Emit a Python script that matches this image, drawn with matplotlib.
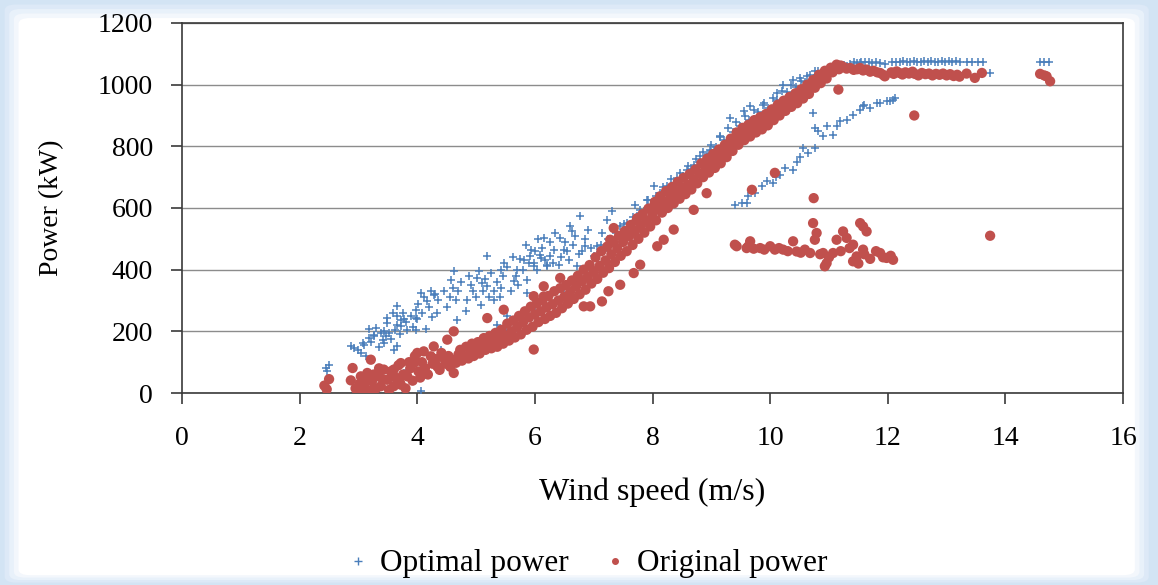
import numpy as np
import matplotlib
matplotlib.use('Agg')
import matplotlib.pyplot as plt
from matplotlib.patches import FancyBboxPatch
from matplotlib.lines import Line2D

plt.rcParams['font.family'] = ['Liberation Serif', 'DejaVu Serif']

# Original power - main band (wind speed m/s, power kW)
orig_speed = [2.42, 2.50, 2.46, 2.87, 2.90, 2.95, 2.98, 3.02, 3.04, 3.06, 3.10, 3.13, 3.15,
    3.20, 3.21, 3.23, 3.26, 3.30, 3.32, 3.35, 3.38, 3.41, 3.43, 3.49, 3.52, 3.55,
    3.60, 3.60, 3.63, 3.68, 3.70, 3.72, 3.72, 3.76, 3.80, 3.83, 3.86, 3.88,
    3.92, 3.94, 3.96, 4.00, 4.02, 4.05, 4.08, 4.11, 4.13, 4.18, 4.23, 4.26,
    4.28, 4.31, 4.34, 4.38, 4.41, 4.45, 4.48, 4.51, 4.53, 4.56, 4.59, 4.62, 4.62,
    4.66, 4.70, 4.73, 4.76, 4.80, 4.83, 4.87, 4.90, 4.93, 4.96, 5.00, 5.03,
    5.06, 5.10, 5.13, 5.16, 5.19, 5.20, 5.23, 5.26, 5.30, 5.33, 5.36, 5.40, 5.43,
    5.46, 5.47, 5.50, 5.53, 5.56, 5.60, 5.63, 5.66, 5.70, 5.73, 5.76, 5.80, 5.83,
    5.86, 5.90, 5.93, 5.96, 5.98, 6.00, 6.03, 5.98, 6.06, 6.10, 6.13,
    6.15, 6.15, 6.17, 6.20, 6.23, 6.26, 6.30, 6.33, 6.36, 6.40, 6.43, 6.43,
    6.46, 6.50, 6.53, 6.56, 6.60, 6.63, 6.66, 6.70, 6.73, 6.76, 6.80, 6.83, 6.83,
    6.86, 6.90, 6.93, 6.94, 6.96, 7.00, 7.03, 7.06, 7.10, 7.13, 7.14,
    7.16, 7.20, 7.23, 7.25, 7.26, 7.28, 7.30, 7.33, 7.34, 7.36, 7.40, 7.43, 7.45,
    7.46, 7.50, 7.53, 7.56, 7.60, 7.63, 7.66, 7.68, 7.70, 7.73, 7.74,
    7.76, 7.79, 7.80, 7.83, 7.86, 7.90, 7.93, 7.96, 8.00, 8.02, 8.04,
    8.06, 8.08, 8.10, 8.13, 8.16, 8.19, 8.20, 8.23, 8.26, 8.30, 8.33,
    8.36, 8.36, 8.40, 8.43, 8.46, 8.50, 8.53, 8.56, 8.60, 8.63,
    8.66, 8.70, 8.70, 8.73, 8.76, 8.80, 8.83, 8.86, 8.90, 8.92, 8.93,
    8.96, 9.00, 9.03, 9.06, 9.10, 9.13, 9.16, 9.20, 9.23, 9.26, 9.30, 9.33,
    9.36, 9.40, 9.43, 9.46, 9.50, 9.53, 9.56, 9.60, 9.63,
    9.66, 9.69, 9.70, 9.73, 9.76, 9.80, 9.83, 9.86, 9.90, 9.93,
    9.96, 10.00, 10.03, 10.06, 10.08, 10.10, 10.13, 10.16, 10.20, 10.23,
    10.26, 10.30, 10.33, 10.36, 10.40, 10.43, 10.46, 10.50, 10.53,
    10.56, 10.60, 10.63, 10.66, 10.70, 10.73, 10.76, 10.80, 10.83,
    10.86, 10.90, 10.93, 10.96, 11.00, 11.03, 11.06, 11.10, 11.13,
    11.16, 11.17, 11.20, 11.24]
orig_power = [24, 45, 12, 41, 81, 15, 5, 30, 54, 10, 22, 45, 65,
    8, 108, 38, 60, 15, 54, 80, 22, 45, 76, 43, 10, 70,
    22, 76, 50, 90, 35, 27, 97, 60, 15, 54, 100, 80,
    40, 97, 120, 130, 70, 50, 100, 135, 80, 60, 119, 95,
    151, 110, 86, 75, 130, 113, 95, 173, 120, 85, 108, 200, 65,
    98, 125, 140, 105, 118, 150, 112, 135, 160, 120, 145, 165,
    128, 150, 178, 140, 243, 160, 185, 145, 170, 195, 150, 175, 205,
    160, 270, 185, 225, 170, 200, 235, 180, 215, 250, 190, 230, 265,
    205, 245, 280, 215, 314, 255, 290, 141, 230, 265, 300,
    346, 313, 240, 278, 315, 250, 288, 330, 260, 300, 373, 340,
    275, 312, 350, 290, 328, 365, 305, 345, 380, 320, 362, 281, 400,
    335, 378, 415, 281, 355, 395, 440, 370, 412, 460, 297,
    390, 430, 475, 330, 405, 497, 450, 490, 535, 425, 470, 510, 351,
    445, 490, 525, 460, 508, 545, 480, 389, 525, 560, 567,
    500, 416, 543, 580, 520, 560, 598, 540, 580, 605, 620,
    560, 476, 600, 638, 585, 497, 620, 655, 600, 635, 668,
    530, 615, 650, 685, 630, 665, 698, 645, 675, 710,
    660, 594, 693, 725, 680, 712, 745, 700, 730, 648, 760,
    715, 745, 775, 730, 760, 790, 745, 775, 805, 765, 795, 825,
    785, 815, 845, 805, 835, 860, 820, 847, 870,
    832, 659, 858, 885, 845, 869, 895, 855, 880, 905,
    868, 895, 920, 885, 714, 910, 935, 900, 925, 948,
    915, 937, 960, 928, 949, 972, 940, 961, 985,
    955, 975, 1000, 970, 992, 1015, 990, 1010, 1032,
    1005, 1025, 1045, 1020, 1040, 1055, 1040, 1055, 1065,
    984, 1050, 1062, 1058]

# Original power - rated plateau
orig_rated_speed = [11.30, 11.36, 11.42, 11.48, 11.53, 11.58, 11.64, 11.70, 11.76, 11.82,
    11.87, 11.92, 11.95, 12.06, 12.10, 12.15, 12.20, 12.25, 12.30, 12.36, 12.42,
    12.46, 12.52, 12.58, 12.64, 12.70, 12.76, 12.82, 12.88, 12.94, 13.00, 13.06,
    13.12, 13.18, 13.22, 13.34, 13.48, 13.60, 14.59, 14.66, 14.70, 14.76]
orig_rated_power = [1052, 1054, 1048, 1050, 1054, 1046, 1049, 1042, 1045, 1040,
    1038, 1032, 1027, 1040, 1035, 1043, 1038, 1033, 1040, 1036, 1042,
    1035, 1030, 1038, 1034, 1036, 1030, 1035, 1032, 1036, 1030, 1034,
    1028, 1032, 1026, 1036, 1022, 1038, 1035, 1030, 1027, 1011]

# Original power - low cluster and isolated points
orig_low_speed = [9.40, 9.43, 9.60, 9.63, 9.66, 9.72, 9.83, 9.90, 10.00, 10.08, 10.15,
    10.22, 10.30, 10.39, 10.45, 10.52, 10.59, 10.68, 10.73, 10.76, 10.79, 10.85,
    10.90, 10.93, 10.96, 11.00, 11.07, 11.13, 11.20, 11.24, 11.30, 11.35, 11.41,
    11.41, 11.47, 11.50, 11.53, 11.58, 11.58, 11.64, 11.60, 11.70, 11.80, 11.87,
    11.92, 11.98, 12.05, 12.09, 10.74, 12.45, 13.74]
orig_low_power = [481, 476, 470, 476, 492, 468, 470, 465, 476, 465, 470,
    465, 460, 492, 459, 455, 465, 454, 551, 497, 519, 450,
    454, 411, 421, 440, 454, 497, 460, 524, 503, 470, 481,
    427, 443, 420, 551, 540, 465, 524, 450, 435, 460, 454,
    440, 438, 445, 432, 632, 900, 510]

# Optimal power - main cloud
opt_speed = [2.44, 2.50, 2.47, 2.87, 2.92, 3.04, 3.07, 3.10, 3.18, 3.18, 3.27, 3.27,
    3.38, 3.41, 3.43, 3.46, 3.49, 3.49, 3.52, 3.60, 3.66, 3.66, 3.66, 3.66, 3.72,
    3.72, 3.78, 3.83, 3.97, 3.97, 3.97, 4.00, 4.06, 4.14, 4.17, 4.23, 4.28, 4.34,
    4.30, 4.40, 4.57, 4.60, 4.62, 4.65, 4.68, 4.79, 4.82, 4.91, 5.02, 5.08, 5.10,
    5.19, 5.12, 5.19, 5.30, 5.30, 5.36, 5.42, 5.42, 5.47, 5.53, 5.58, 5.64, 5.70,
    5.75, 5.81, 5.87, 5.87, 5.92, 5.93, 5.98, 5.98, 6.04, 6.09, 6.10, 6.15, 6.21,
    6.21, 6.26, 6.32, 6.41, 6.43, 6.49, 6.58, 6.60, 6.63, 6.72, 6.77, 6.80, 6.86,
    7.00, 7.06, 7.14, 7.23, 7.31, 7.45, 7.57, 7.71, 7.74, 7.91, 8.02, 8.13, 8.24,
    8.41, 8.58, 8.70, 8.81, 8.92, 8.98, 9.04, 9.15, 9.32, 9.55, 9.66, 9.89, 10.11,
    10.22, 10.39, 10.51, 10.62, 10.76, 11.30, 11.53,
    3.00, 3.12, 3.22, 3.30, 3.35, 3.44, 3.55, 3.58, 3.62, 3.70, 3.75, 3.80, 3.90,
    3.93, 4.02, 4.08, 4.12, 4.20, 4.25, 4.36, 4.45, 4.50, 4.55, 4.70, 4.75, 4.85,
    4.88, 4.95, 5.00, 5.05, 5.15, 5.22, 5.25, 5.35, 5.40, 5.45, 5.52, 5.60, 5.62,
    5.68, 5.72, 5.80, 5.85, 5.90, 6.00, 6.05, 6.12, 6.18, 6.25, 6.30, 6.35, 6.45,
    6.52, 6.55, 6.65, 6.68, 6.75, 6.85, 6.90, 6.95,
    3.10, 3.83, 3.88, 4.06, 4.40, 4.90, 5.50, 6.00, 6.50, 6.70]
opt_power = [81, 92, 70, 151, 145, 130, 162, 155, 206, 178, 184, 189,
    195, 173, 162, 185, 243, 227, 195, 141, 151, 249, 222, 281, 216,
    238, 240, 205, 243, 270, 205, 240, 324, 206, 297, 330, 319, 260,
    320, 141, 368, 341, 395, 300, 238, 141, 265, 351, 373, 287, 357,
    346, 330, 443, 303, 330, 222, 400, 341, 422, 249, 230, 362, 400,
    433, 432, 368, 324, 443, 465, 411, 421, 400, 449, 438, 503, 416,
    411, 443, 465, 416, 503, 465, 432, 540, 524, 411, 573, 459, 476,
    443, 476, 519, 562, 589, 540, 551, 611, 573, 627, 670, 648, 670,
    697, 724, 740, 768, 767, 789, 789, 832, 892, 913, 930, 940, 973,
    1000, 1016, 1021, 1027, 1043, 1059, 1070,
    140, 120, 165, 210, 150, 200, 175, 260, 205, 190, 260, 230, 250,
    215, 290, 260, 310, 280, 245, 300, 330, 280, 310, 330, 360, 300,
    380, 330, 310, 395, 370, 310, 390, 360, 310, 380, 410, 330, 440,
    380, 350, 400, 480, 420, 460, 500, 470, 430, 490, 420, 520, 440,
    490, 460, 480, 510, 450, 500, 530, 470,
    32, 76, 70, 5, 130, 160, 200, 280, 340, 370]

# Optimal power - upper edge of the main curve
opt_edge_speed = [7.05, 7.12, 7.18, 7.25, 7.33, 7.38, 7.47, 7.52, 7.58, 7.66, 7.72, 7.78,
    7.86, 7.93, 7.98, 8.06, 8.12, 8.18, 8.26, 8.32, 8.38, 8.46, 8.52, 8.60, 8.66,
    8.74, 8.80, 8.86, 8.94, 9.00, 9.08, 9.14, 9.22, 9.28, 9.36, 9.42, 9.48, 9.58,
    9.64, 9.72, 9.80, 9.88, 9.96, 10.04, 10.12, 10.20, 10.28, 10.36, 10.44, 10.52,
    10.60, 10.68, 10.74, 10.82, 10.90, 10.98, 11.06, 11.14]
opt_edge_power = [448, 480, 462, 500, 488, 520, 515, 548, 535, 570, 560, 595,
    590, 625, 610, 640, 630, 668, 660, 695, 680, 712, 705, 735, 728,
    760, 748, 782, 775, 805, 798, 830, 822, 858, 845, 878, 866, 898,
    885, 918, 910, 935, 925, 958, 950, 980, 975, 1000, 992, 1012,
    1008, 1030, 1022, 1044, 1040, 1055, 1052, 1062]

# Optimal power - lower branch
opt_branch_speed = [9.40, 9.52, 9.60, 9.63, 9.75, 9.86, 9.94, 10.05, 10.10, 10.17, 10.25,
    10.39, 10.45, 10.51, 10.56, 10.65, 10.73, 10.76, 10.76, 10.82, 10.90, 10.96,
    11.07, 11.13, 11.19, 11.30, 11.41, 11.53, 11.58, 11.59, 11.70, 11.81, 11.87,
    11.98, 12.04, 12.09, 12.12]
opt_branch_power = [611, 615, 616, 638, 650, 670, 686, 681, 700, 708, 730,
    724, 750, 767, 795, 778, 908, 795, 860, 850, 832, 865,
    838, 865, 881, 886, 903, 919, 930, 935, 925, 940, 940,
    946, 946, 951, 957]

# Optimal power - rated plateau
opt_rated_speed = [11.25, 11.35, 11.42, 11.48, 11.55, 11.62, 11.68, 11.74, 11.80, 11.86,
    11.95, 12.08, 12.14, 12.20, 12.26, 12.32, 12.38, 12.44, 12.50, 12.56, 12.62,
    12.68, 12.74, 12.80, 12.86, 12.92, 12.98, 13.04, 13.10, 13.16, 13.22, 13.34,
    13.44, 13.54, 13.62, 13.74, 14.59, 14.66, 14.74]
opt_rated_power = [1065, 1068, 1072, 1070, 1074, 1072, 1075, 1070, 1073, 1070,
    1068, 1072, 1075, 1073, 1076, 1072, 1075, 1078, 1074, 1072, 1076,
    1074, 1078, 1075, 1073, 1077, 1075, 1078, 1074, 1076, 1072, 1075,
    1075, 1075, 1075, 1038, 1075, 1075, 1075]

blue = '#4a7ebb'
red = '#c0504d'

fig = plt.figure(figsize=(11.58, 5.85), dpi=100)
fig.patch.set_facecolor('#d3e4f4')

# soft blue frame fading into the white card
frame_cols = ['#dde9f7', '#e8f1fa', '#f3f7fc', '#ffffff']
for i, c in enumerate(frame_cols):
    dx = 0.004 * (i + 1)
    dy = 0.007 * (i + 1)
    fig.patches.append(FancyBboxPatch((dx, dy * 0.6), 1 - 2 * dx - 0.004, 1 - dy * 1.7,
                                      boxstyle='round,pad=0,rounding_size=0.01',
                                      transform=fig.transFigure, facecolor=c,
                                      edgecolor='none', zorder=-5))

ax = fig.add_axes([0.1572, 0.3282, 0.8126, 0.6325])
ax.set_zorder(2)
ax.set_facecolor('white')

for xs, ys in [(opt_speed, opt_power), (opt_edge_speed, opt_edge_power),
               (opt_branch_speed, opt_branch_power), (opt_rated_speed, opt_rated_power)]:
    ax.scatter(xs, ys, marker='+', s=40, linewidths=1.1, color=blue, zorder=3)

for xs, ys in [(orig_speed, orig_power), (orig_rated_speed, orig_rated_power),
               (orig_low_speed, orig_low_power)]:
    ax.scatter(xs, ys, marker='o', s=55, color=red, edgecolors='none', zorder=4)

ax.set_xlim(0, 16)
ax.set_ylim(0, 1200)
ax.set_xticks(np.arange(0, 17, 2))
ax.set_yticks(np.arange(0, 1201, 200))
ax.yaxis.grid(True, color='#8c8c8c', linewidth=1.0)
ax.set_axisbelow(True)

for s in ax.spines.values():
    s.set_color('#3a3a3a')
    s.set_linewidth(1.2)

ax.tick_params(axis='both', direction='out', length=8, width=1.2, color='#3a3a3a',
               labelsize=20)
ax.tick_params(axis='x', pad=16)
ax.tick_params(axis='y', pad=13)

ax.set_xlabel('Wind speed (m/s)', fontsize=23, labelpad=19)
ax.set_ylabel('Power (kW)', fontsize=20, labelpad=24)

handles = [Line2D([], [], marker='+', linestyle='none', color=blue, markersize=6, markeredgewidth=1),
           Line2D([], [], marker='o', linestyle='none', color=red, markersize=4)]
leg = fig.legend(handles, ['Optimal power', 'Original power'], loc='center',
                 bbox_to_anchor=(0.505, 0.036), ncol=2, frameon=False, fontsize=22.5,
                 handletextpad=0.2, columnspacing=1.0, handlelength=1.0)
leg.set_zorder(3)

fig.savefig('out.png', dpi=100, facecolor=fig.get_facecolor())
